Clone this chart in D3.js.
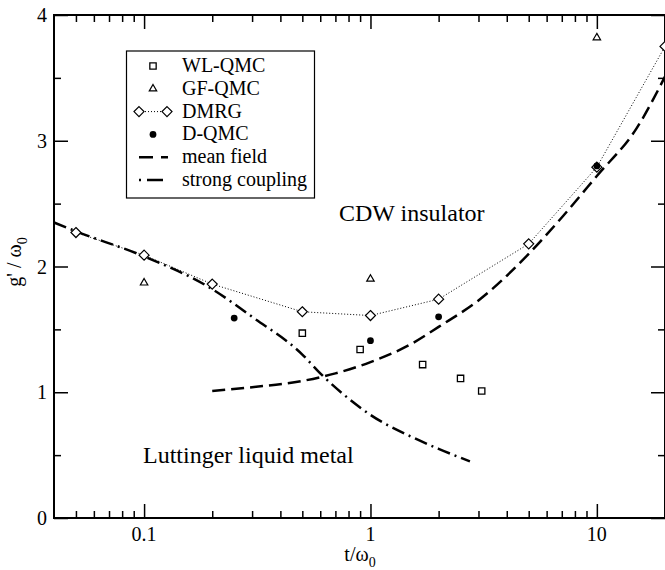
<!DOCTYPE html>
<html>
<head>
<meta charset="utf-8">
<script src="https://cdn.jsdelivr.net/npm/d3@7"></script>
<style>
  body { margin: 0; background: #fff; }
  svg text { font-family: "Liberation Serif", "Times New Roman", serif; fill: #000; }
</style>
</head>
<body>
<script>
// data
var wlT = [0.5, 0.9, 1.7, 2.5, 3.1],
    wlG = [1.47, 1.34, 1.22, 1.11, 1.01];
var gfT = [0.1, 1, 10],
    gfG = [1.87, 1.90, 3.82];
var dmrgT = [0.05, 0.1, 0.2, 0.5, 1, 2, 5, 10, 20],
    dmrgG = [2.27, 2.09, 1.86, 1.64, 1.61, 1.74, 2.18, 2.79, 3.75];
var dqmcT = [0.25, 1, 2, 10],
    dqmcG = [1.59, 1.41, 1.60, 2.80];
var mfT = [0.2, 0.3, 0.5, 0.7, 1, 1.5, 2, 3, 5, 7, 10, 15, 20],
    mfG = [1.01, 1.04, 1.09, 1.15, 1.24, 1.38, 1.52, 1.73, 2.1, 2.39, 2.72, 3.1, 3.51];
var scT = [0.04, 0.05, 0.1, 0.2, 0.3, 0.5, 0.6, 0.8, 1, 1.5, 2, 2.75],
    scG = [2.35, 2.28, 2.08, 1.82, 1.6, 1.3, 1.15, 0.95, 0.82, 0.65, 0.55, 0.45];

var xMajor = [0.1, 1, 10],
    xMinor = [0.05, 0.06, 0.07, 0.08, 0.09, 0.2, 0.3, 0.4, 0.5, 0.6, 0.7, 0.8, 0.9,
              2, 3, 4, 5, 6, 7, 8, 9],
    yMajor = [0, 1, 2, 3, 4],
    yMinor = [0.5, 1.5, 2.5, 3.5];

var legendNames = ['WL-QMC', 'GF-QMC', 'DMRG', 'D-QMC', 'mean field', 'strong coupling'];

var W = 665, H = 570;
var pL = 54, pR = 665, pT = 15, pB = 518;

var x = d3.scaleLog().domain([0.04, 20]).range([pL, pR]);
var y = d3.scaleLinear().domain([0, 4]).range([pB, pT]);

var svg = d3.select('body').append('svg')
    .attr('width', W)
    .attr('height', H);

function zip(a, b) { return a.map(function(d, i) { return [d, b[i]]; }); }

// ticks (inward on all four sides)
function tickAxes(vals, len) {
    svg.append('g').attr('transform', 'translate(0,' + pB + ')')
        .call(d3.axisBottom(x).tickValues(vals).tickSize(-len).tickSizeOuter(0).tickFormat(''));
    svg.append('g').attr('transform', 'translate(0,' + pT + ')')
        .call(d3.axisTop(x).tickValues(vals).tickSize(-len).tickSizeOuter(0).tickFormat(''));
}
tickAxes(xMinor, 7);
tickAxes(xMajor, 14);

function tickYAxes(vals, len) {
    svg.append('g').attr('transform', 'translate(' + pL + ',0)')
        .call(d3.axisLeft(y).tickValues(vals).tickSize(-len).tickSizeOuter(0).tickFormat(''));
    svg.append('g').attr('transform', 'translate(' + pR + ',0)')
        .call(d3.axisRight(y).tickValues(vals).tickSize(-len).tickSizeOuter(0).tickFormat(''));
}
tickYAxes(yMinor, 7);
tickYAxes(yMajor, 14);

svg.selectAll('.domain').remove();
svg.selectAll('.tick line').attr('stroke', '#000').attr('stroke-width', 1.5);

// frame
svg.append('rect')
    .attr('x', pL).attr('y', pT)
    .attr('width', pR - pL).attr('height', pB - pT)
    .attr('fill', 'none').attr('stroke', '#000').attr('stroke-width', 2);

// tick labels
svg.selectAll('.xlab').data(xMajor).enter().append('text')
    .attr('x', function(d) { return x(d); })
    .attr('y', 541)
    .attr('text-anchor', 'middle')
    .style('font-size', '20px')
    .text(function(d) { return d; });

svg.selectAll('.ylab').data(yMajor).enter().append('text')
    .attr('x', 47)
    .attr('y', function(d) { return y(d) + 7; })
    .attr('text-anchor', 'end')
    .style('font-size', '20px')
    .text(function(d) { return d; });

// axis titles
var xt = svg.append('text')
    .attr('x', 360).attr('y', 561)
    .attr('text-anchor', 'middle')
    .style('font-size', '20px');
xt.append('tspan').text('t/ω');
xt.append('tspan').attr('dy', 6).style('font-size', '14px').text('0');

var yt = svg.append('text')
    .attr('transform', 'translate(21,262) rotate(-90)')
    .attr('text-anchor', 'middle')
    .style('font-size', '20px');
yt.append('tspan').text('g\' / ω');
yt.append('tspan').attr('dy', 6).style('font-size', '14px').text('0');

// curves
var line = d3.line()
    .x(function(d) { return x(d[0]); })
    .y(function(d) { return y(d[1]); });

svg.append('path')
    .datum(zip(dmrgT, dmrgG))
    .attr('d', line)
    .attr('fill', 'none').attr('stroke', '#000')
    .attr('stroke-width', 1).attr('stroke-dasharray', '1,2');

svg.append('path')
    .datum(zip(mfT, mfG))
    .attr('d', line.curve(d3.curveMonotoneX))
    .attr('fill', 'none').attr('stroke', '#000')
    .attr('stroke-width', 2.5).attr('stroke-dasharray', '13,6');

svg.append('path')
    .datum(zip(scT, scG))
    .attr('d', line.curve(d3.curveMonotoneX))
    .attr('fill', 'none').attr('stroke', '#000')
    .attr('stroke-width', 2.5).attr('stroke-dasharray', '13,5,2,5');

// markers
var sym = {
    square: d3.symbol().type(d3.symbolSquare).size(40),
    triangle: d3.symbol().type(d3.symbolTriangle).size(24),
    diamond: 'M0,-5L5,0L0,5L-5,0Z'
};

svg.selectAll('.wl').data(zip(wlT, wlG)).enter().append('path')
    .attr('transform', function(d) { return 'translate(' + x(d[0]) + ',' + y(d[1]) + ')'; })
    .attr('d', sym.square())
    .attr('fill', '#fff').attr('stroke', '#000').attr('stroke-width', 1.3);

svg.selectAll('.gf').data(zip(gfT, gfG)).enter().append('path')
    .attr('transform', function(d) { return 'translate(' + x(d[0]) + ',' + y(d[1]) + ')'; })
    .attr('d', sym.triangle())
    .attr('fill', 'none').attr('stroke', '#000').attr('stroke-width', 1.2);

svg.selectAll('.dm').data(zip(dmrgT, dmrgG)).enter().append('path')
    .attr('transform', function(d) { return 'translate(' + x(d[0]) + ',' + y(d[1]) + ')'; })
    .attr('d', sym.diamond)
    .attr('fill', '#fff').attr('stroke', '#000').attr('stroke-width', 1.2);

svg.selectAll('.dq').data(zip(dqmcT, dqmcG)).enter().append('circle')
    .attr('cx', function(d) { return x(d[0]); })
    .attr('cy', function(d) { return y(d[1]); })
    .attr('r', 3.4)
    .attr('fill', '#000');

// region labels
svg.append('text').attr('x', 339).attr('y', 221)
    .style('font-size', '24px').text('CDW insulator');
svg.append('text').attr('x', 143).attr('y', 463)
    .style('font-size', '24px').text('Luttinger liquid metal');

// legend
var lg = svg.append('g');
lg.append('rect')
    .attr('x', 126.5).attr('y', 51)
    .attr('width', 188).attr('height', 147)
    .attr('fill', '#fff').attr('stroke', '#000').attr('stroke-width', 1.2);

var rowY = function(i) { return 72 + i * 22.8; };

lg.selectAll('.lt').data(legendNames).enter().append('text')
    .attr('x', 182)
    .attr('y', function(d, i) { return rowY(i); })
    .style('font-size', '20px')
    .text(function(d) { return d; });

var cy = function(i) { return rowY(i) - 6; };
lg.append('path').attr('transform', 'translate(153,' + cy(0) + ')')
    .attr('d', sym.square()).attr('fill', '#fff').attr('stroke', '#000').attr('stroke-width', 1.3);
lg.append('path').attr('transform', 'translate(153,' + cy(1) + ')')
    .attr('d', sym.triangle()).attr('fill', 'none').attr('stroke', '#000').attr('stroke-width', 1.2);
lg.append('line').attr('x1', 139).attr('x2', 167).attr('y1', cy(2)).attr('y2', cy(2))
    .attr('stroke', '#000').attr('stroke-width', 1).attr('stroke-dasharray', '1,2');
[139, 167].forEach(function(px) {
    lg.append('path').attr('transform', 'translate(' + px + ',' + cy(2) + ')')
        .attr('d', sym.diamond).attr('fill', '#fff').attr('stroke', '#000').attr('stroke-width', 1.2);
});
lg.append('circle').attr('cx', 153).attr('cy', cy(3)).attr('r', 3.4).attr('fill', '#000');
lg.append('line').attr('x1', 139).attr('x2', 168).attr('y1', cy(4)).attr('y2', cy(4))
    .attr('stroke', '#000').attr('stroke-width', 2.5).attr('stroke-dasharray', '14,8');
lg.append('line').attr('x1', 139).attr('x2', 168).attr('y1', cy(5)).attr('y2', cy(5))
    .attr('stroke', '#000').attr('stroke-width', 2.5).attr('stroke-dasharray', '2,6,16,5');
</script>
</body>
</html>
